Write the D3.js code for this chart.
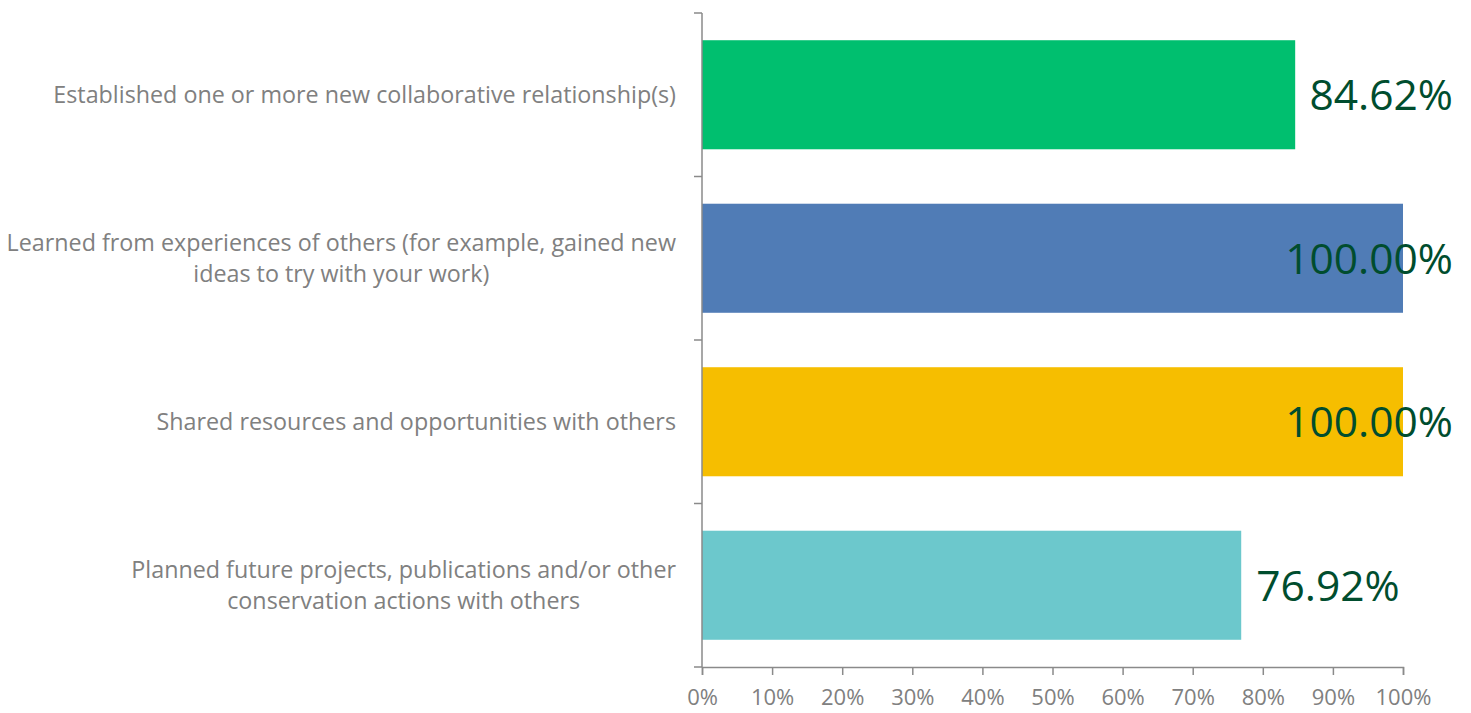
<!DOCTYPE html>
<html>
<head>
<meta charset="utf-8">
<script src="https://cdn.jsdelivr.net/npm/d3@7"></script>
<style>
  html, body { margin: 0; padding: 0; background: #ffffff; }
  svg { display: block; }
</style>
</head>
<body>
<svg id="chart" width="1471" height="713"></svg>
<script>
// Survey outcomes and share of respondents reporting each
const categories = [
  ["Established one or more new collaborative relationship(s)"],
  ["Learned from experiences of others (for example, gained new", "ideas to try with your work)"],
  ["Shared resources and opportunities with others"],
  ["Planned future projects, publications and/or other", "conservation actions with others"]
];
const values = [84.62, 100.00, 100.00, 76.92];
const barColors = ["#00bf6f", "#507cb6", "#f6be00", "#6cc8cc"];
const xTicks = [0, 10, 20, 30, 40, 50, 60, 70, 80, 90, 100];

const W = 1471, H = 713;
const margin = { top: 13, right: 68, bottom: 46, left: 702 };
const fontFamily = "'Open Sans', 'Noto Sans', sans-serif";
const grey = "#8a8a8a";
const labelGrey = "#808080";
const valueColor = "#004d2e";

const svg = d3.select("#chart");
const g = svg.append("g").attr("transform", `translate(${margin.left},${margin.top})`);
const innerH = H - margin.top - margin.bottom;

const x = d3.scaleLinear().domain([0, 100]).range([0, 701]);
const y = d3.scaleBand()
  .domain(d3.range(categories.length))
  .range([0, innerH])
  .paddingInner(0.333)
  .paddingOuter(0.1665);

// bars
g.selectAll("rect.bar")
  .data(values)
  .join("rect")
  .attr("class", "bar")
  .attr("x", 0)
  .attr("y", (d, i) => y(i))
  .attr("width", d => x(d))
  .attr("height", y.bandwidth())
  .attr("fill", (d, i) => barColors[i]);

// x axis
const xAxis = d3.axisBottom(x)
  .tickValues(xTicks)
  .tickFormat(d => d + "%")
  .tickSize(8)
  .tickPadding(14);
const xg = g.append("g").attr("transform", `translate(0,${innerH})`).call(xAxis);
xg.select(".domain").attr("stroke", grey).attr("stroke-width", 1.5);
xg.selectAll(".tick line").attr("stroke", grey).attr("stroke-width", 1.5);
xg.selectAll(".tick text")
  .attr("fill", labelGrey)
  .style("font-family", fontFamily)
  .style("font-size", "22px");

// y axis: ticks sit on band boundaries, labels drawn separately
const boundaries = d3.range(categories.length + 1).map(i => i * y.step());
const yg = g.append("g");
yg.append("line")
  .attr("x1", 0).attr("x2", 0)
  .attr("y1", 0).attr("y2", innerH)
  .attr("stroke", grey).attr("stroke-width", 1.5);
yg.selectAll("line.tick")
  .data(boundaries)
  .join("line")
  .attr("class", "tick")
  .attr("x1", -8).attr("x2", 0)
  .attr("y1", d => d).attr("y2", d => d)
  .attr("stroke", grey).attr("stroke-width", 1.5);

// category labels: block right-aligned to the axis, lines centred within it
const lineGap = 31;
const catG = g.append("g")
  .style("font-family", fontFamily)
  .style("font-size", "23.3px")
  .attr("fill", labelGrey);
categories.forEach((lines, i) => {
  const cy = y(i) + y.bandwidth() / 2;
  const t = catG.append("text").attr("text-anchor", "middle");
  const spans = lines.map((ln, k) =>
    t.append("tspan")
      .attr("y", cy + (k - (lines.length - 1) / 2) * lineGap)
      .attr("dy", "0.35em")
      .text(ln));
  const widest = d3.max(spans, s => s.node().getComputedTextLength());
  spans.forEach(s => s.attr("x", -26 - widest / 2));
});

// value labels: after the bar end, kept inside the plot's right edge
const rightLimit = W - margin.left - 18;
g.selectAll("text.value")
  .data(values)
  .join("text")
  .attr("class", "value")
  .attr("y", (d, i) => y(i) + y.bandwidth() / 2)
  .attr("dy", "0.37em")
  .attr("fill", valueColor)
  .style("font-family", fontFamily)
  .style("font-size", "42.5px")
  .text(d => d.toFixed(2) + "%")
  .each(function(d) {
    const w = this.getComputedTextLength();
    const start = Math.min(x(d) + 15, rightLimit - w);
    d3.select(this).attr("x", start);
  });
</script>
</body>
</html>
